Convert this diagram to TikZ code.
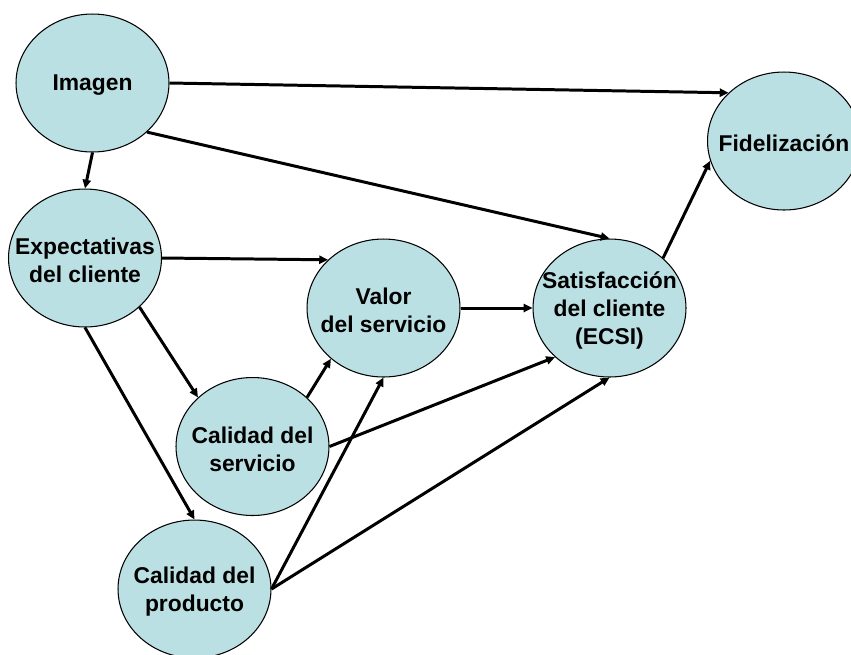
\documentclass[tikz,border=0pt]{standalone}
\usepackage{fontspec}
\setmainfont{Liberation Sans}
\usepackage{tikz}
\usetikzlibrary{shapes,arrows,positioning,calc,arrows.meta}
\definecolor{ppblue}{HTML}{BBE0E3}

\begin{document}
\begin{tikzpicture}[
    x=0.02cm, y=-0.02cm,
    var/.style={draw, ellipse, line width=0.6pt, fill=ppblue, minimum width=3.06cm, minimum height=2.76cm, inner sep=0pt},
    txt/.style={align=center, inner sep=0pt, yshift=-0.05cm, font=\fontsize{13}{15.8}\selectfont\bfseries},
    arr/.style={line width=1.7pt, -{Triangle[length=5pt,width=4.6pt]}}
]
    \clip (0,0) rectangle (851,654);
    \useasboundingbox (0,0) rectangle (851,654);

    \node [var, label={[txt]center:Imagen}] (img) at (92.5,83) {};
    \node [var, label={[txt]center:Expectativas\\del cliente}] (exp) at (85,258) {};
    \node [var, label={[txt]center:Valor\\del servicio}] (val) at (383.5,308) {};
    \node [var, label={[txt]center:Satisfacción\\del cliente\\(ECSI)}] (sat) at (609.5,308) {};
    \node [var, label={[txt]center:Fidelización}] (fid) at (784,141) {};
    \node [var, label={[txt]center:Calidad del\\servicio}] (cse) at (252.5,446.5) {};
    \node [var, label={[txt]center:Calidad del\\producto}] (cpr) at (194.5,589) {};

    % Arrows
    \foreach \a/\b in {img.east/fid.139, img.-42/sat.north, img.south/exp.north,
                       exp.east/val.139, exp.-42/cse.138, exp.south/cpr.north,
                       cse.42/val.224, cse.east/sat.222, cpr.east/val.south,
                       cpr.east/sat.south, val.east/sat.west, sat.43/fid.195} {
        \draw [arr] (\a) -- (\b);
    }
\end{tikzpicture}
\end{document}
